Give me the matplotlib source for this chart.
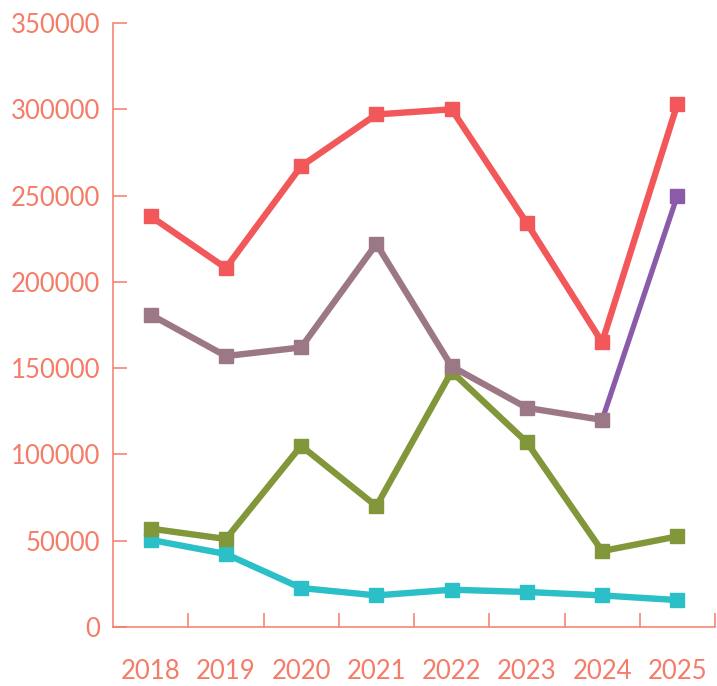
import matplotlib.pyplot as plt
import numpy as np

years = ["2018", "2019", "2020", "2021", "2022", "2023", "2024", "2025"]
red_vals = [238000, 208000, 267000, 297000, 300000, 234000, 165000, 303000]
mauve_vals = [181000, 157000, 162000, 222000, 151000, 127000, 120000]
purple_vals = [120000, 250000]  # 2024 -> 2025
olive_vals = [57000, 51000, 105000, 70000, 148000, 107000, 44000, 52500]
cyan_vals = [50500, 42300, 22600, 18300, 21600, 20300, 18300, 15600]
y_ticks = [0, 50000, 100000, 150000, 200000, 250000, 300000, 350000]

axis_col = "#F47C68"
plt.rcParams['font.family'] = ['Lato', 'DejaVu Sans']

fig = plt.figure(figsize=(7.17, 6.86), dpi=100)
ax = fig.add_axes([113 / 717, 1 - 627 / 686, (715 - 113) / 717, (627 - 23) / 686])

x = np.arange(len(years))
lw = 4.6
ms = 9.5

# purple segment first, only its end marker shown
ax.plot(x[6:8], purple_vals, color="#8A5BA8", lw=3.8, marker="s", ms=ms,
        markevery=[1], zorder=2)
ax.plot(x, cyan_vals, color="#2BBFC7", lw=lw, marker="s", ms=ms, zorder=3)
ax.plot(x, olive_vals, color="#82963A", lw=lw, marker="s", ms=ms, zorder=3)
ax.plot(x[:7], mauve_vals, color="#9C7887", lw=lw, marker="s", ms=ms, zorder=4)
ax.plot(x, red_vals, color="#F2575A", lw=lw, marker="s", ms=ms, zorder=5)

ax.set_xlim(-0.5, len(years) - 0.5)
ax.set_ylim(0, 350000)

for s in ["top", "right"]:
    ax.spines[s].set_visible(False)
for s in ["left", "bottom"]:
    ax.spines[s].set_color(axis_col)
    ax.spines[s].set_linewidth(1.1)

ax.set_yticks(y_ticks)
ax.set_yticklabels([str(v) for v in y_ticks])
ax.tick_params(axis="y", direction="in", length=10, width=1.1, color=axis_col,
               labelcolor=axis_col, labelsize=18.5, pad=9)

# category labels in the middle, tick marks on the band edges
ax.set_xticks(x)
ax.set_xticklabels(years)
ax.set_xticks(x + 0.5, minor=True)
ax.tick_params(axis="x", which="major", length=0, labelcolor=axis_col,
               labelsize=18.5, pad=23)
ax.tick_params(axis="x", which="minor", direction="in", length=10, width=1.1,
               color=axis_col)

fig.savefig("out.png", dpi=100)
